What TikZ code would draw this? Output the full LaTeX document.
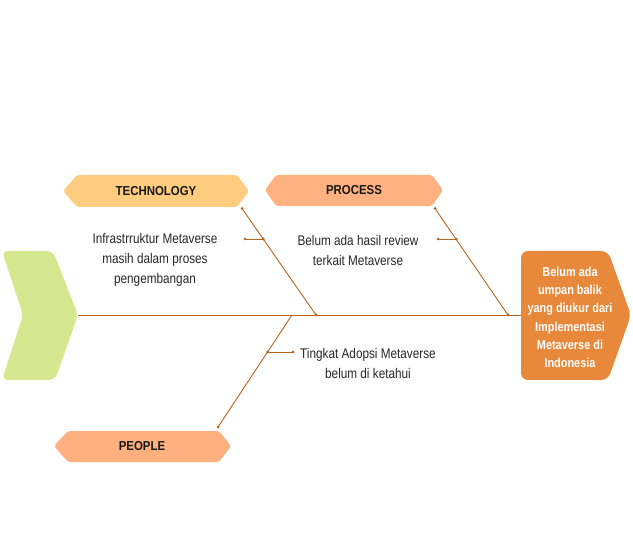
\documentclass[tikz,border=0pt]{standalone}
\usepackage{fontspec}
\newfontfamily\cf{Liberation Sans}[FakeStretch=0.84]
\newfontfamily\lf{Liberation Sans}[FakeStretch=0.88]
\definecolor{bone}{HTML}{B5651D}
\definecolor{headgreen}{HTML}{D5E88F}
\definecolor{techc}{HTML}{FFCC80}
\definecolor{procc}{HTML}{FFB27F}
\definecolor{peoplec}{HTML}{FFB07F}
\definecolor{effectc}{HTML}{E8883A}
\definecolor{txt}{HTML}{262626}
\tikzset{
  bonestyle/.style={draw=bone, line width=0.9pt},
  dotend/.style={fill=bone, draw=none, circle, minimum size=3pt, inner sep=0pt},
  causetext/.style={font=\cf\fontsize{14}{20}\selectfont, text=txt, align=center, inner sep=0pt},
  cattext/.style={font=\lf\bfseries\fontsize{13}{15}\selectfont, text=black!90, inner sep=0pt},
  effecttext/.style={font=\cf\bfseries\fontsize{13}{18.3}\selectfont, text=white, align=center, inner sep=0pt},
}
\begin{document}
\begin{tikzpicture}[x=1pt,y=-1pt]
\useasboundingbox (0,0) rectangle (633,559);
% head shapes
\fill[headgreen, rounded corners=6pt] (2,251) -- (53,251) -- (78,315) -- (55,380) -- (2,380) -- (23,315) -- cycle;
\fill[effectc, rounded corners=7pt] (521,251) -- (608,251) -- (631,315) -- (608,380) -- (521,380) -- cycle;
% category shapes
\fill[techc, rounded corners=2pt] (63,191) -- (77,175) -- (237,175) -- (249,191) -- (237,207) -- (77,207) -- cycle;
\fill[procc, rounded corners=2pt] (265,190) -- (276,175) -- (432,175) -- (443,190) -- (432,206) -- (276,206) -- cycle;
\fill[peoplec, rounded corners=2pt] (54,446) -- (68,431) -- (219,431) -- (231,446) -- (219,462) -- (68,462) -- cycle;
% labels
\node[cattext] (tech) at (156,191) {TECHNOLOGY};
\node[cattext] (proc) at (354,190.5) {PROCESS};
\node[cattext] (people) at (142,446.5) {PEOPLE};
\node[effecttext] (effect) at (570,317.5) {Belum ada\\umpan balik\\yang diukur dari\\Implementasi\\Metaverse di\\Indonesia};
% coordinates
\coordinate (spineL) at (78,315);
\coordinate (spineR) at (521,315);
\coordinate (techTop) at (242,208.5);
\coordinate (techJ) at (316,315);
\coordinate (procTop) at (435,208.5);
\coordinate (procJ) at (508,315);
\coordinate (peopleJ) at (292,315);
\coordinate (peopleBot) at (218,427);
\coordinate (techSubA) at (245,239);
\coordinate (techSubB) at (263.4,239);
\coordinate (procSubA) at (438,239);
\coordinate (procSubB) at (456.3,239);
\coordinate (peopleSubA) at (267.6,352);
\coordinate (peopleSubB) at (293,352);
% spine and bones
\draw[bonestyle] (spineL) -- (spineR);
\draw[bonestyle] (techTop) -- (techJ);
\draw[bonestyle] (procTop) -- (procJ);
\draw[bonestyle] (peopleJ) -- (peopleBot);
\draw[bonestyle] (techSubA) -- (techSubB);
\draw[bonestyle] (procSubA) -- (procSubB);
\draw[bonestyle] (peopleSubA) -- (peopleSubB);
% dots
\foreach \p in {techTop,techJ,procTop,procJ,peopleBot,techSubA,techSubB,procSubA,procSubB,peopleSubA,peopleSubB}
  \node[dotend] at (\p) {};
% cause texts
\node[causetext] (c1) at (155,260) {Infrastrruktur Metaverse\\masih dalam proses\\pengembangan};
\node[causetext] (c2) at (358,250) {Belum ada hasil review\\terkait Metaverse};
\node[causetext] (c3) at (368,363) {Tingkat Adopsi Metaverse\\belum di ketahui};
\end{tikzpicture}
\end{document}
